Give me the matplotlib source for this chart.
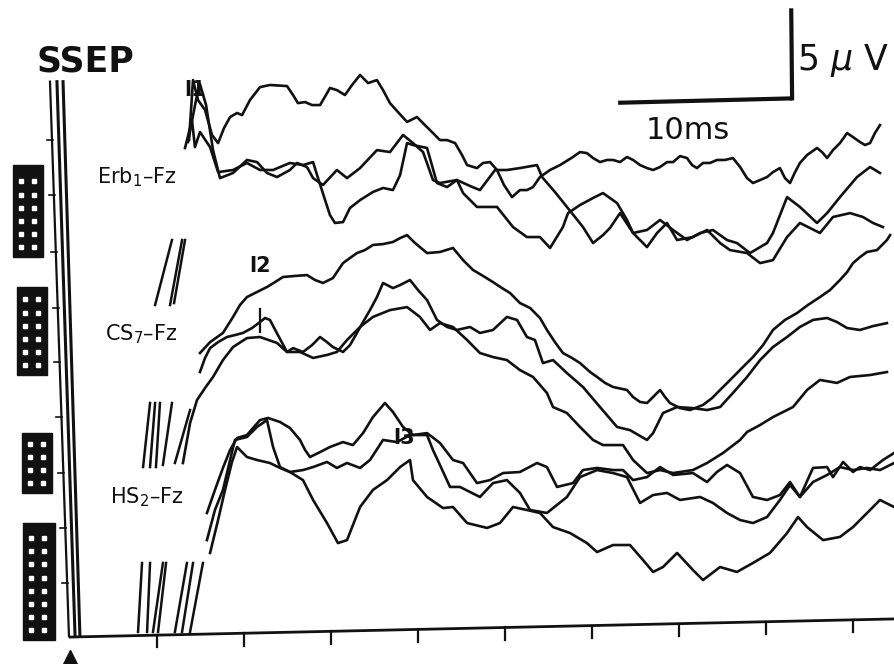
import numpy as np
import matplotlib
matplotlib.use("Agg")
import matplotlib.pyplot as plt
from matplotlib.patches import Rectangle

# ---------------- data: time (ms after stimulus) / amplitude (µV, page level) -------------
erb1_t = [6.84,7.07,7.36,7.76,8.16,8.51,8.85,9.20,9.60,9.89,10.34,10.92,11.49,12.47,12.82,13.10,13.51,13.91,14.37,14.71,
          14.94,15.34,15.80,16.21,16.67,17.13,17.64,17.99,18.39,18.85,19.37,19.94,20.40,20.86,21.26,21.67,22.13,22.53,22.82,23.39,
          23.74,24.14,24.54,24.94,25.40,25.86,26.26,26.61,27.01,27.59,28.16,28.91,29.31,29.71,30.06,30.46,30.86,31.21,31.61,32.01,
          32.36,32.76,33.16,33.51,33.91,34.31,34.66,35.06,35.46,35.75,36.03,36.38,36.78,37.18,37.64,38.10,38.51,38.91,39.25,39.66,
          40.06,40.40,40.80,41.09,41.38,41.67,41.95,42.36,42.93,43.22,43.51,43.85,44.25,44.66,45.00,45.40,45.69,45.98,46.26,46.55]
erb1_v = [28.18,31.59,30.45,29.89,28.47,28.01,28.86,29.49,29.72,29.60,30.45,31.19,31.31,31.25,30.74,30.28,30.34,30.17,30.17,30.74,
          31.14,31.02,30.74,31.31,31.88,31.42,31.59,31.02,30.28,29.77,29.21,29.49,29.03,28.58,28.18,28.18,28.01,27.33,26.76,26.59,
          26.88,26.93,26.48,25.63,24.94,25.34,25.34,25.51,26.08,26.48,26.76,27.22,27.50,27.44,27.16,26.93,27.05,27.05,26.93,27.22,
          27.05,26.76,26.59,26.48,26.65,26.93,26.93,27.27,27.16,26.76,26.59,26.88,26.88,27.05,27.05,27.16,26.65,26.02,25.74,25.91,
          26.08,26.36,26.59,26.02,25.74,26.36,26.88,27.33,27.73,27.50,27.16,27.61,28.01,28.58,28.35,28.07,27.90,28.01,28.58,29.03]

erb2_t = [6.78,7.24,7.47,7.82,8.22,8.62,9.37,10.17,10.75,11.32,11.90,12.64,13.05,13.62,13.97,14.54,15.34,15.92,16.67,17.64,
          18.39,19.14,19.71,20.29,20.86,21.26,22.24,22.99,23.56,24.43,25.11,25.86,26.84,27.13,27.87,28.56,29.48,30.06,30.63,31.03,
          31.61,32.36,33.16,33.91,34.66,35.46,36.21,36.95,37.76,38.33,39.08,40.06,40.40,41.21,41.95,42.93,43.51,44.25,45.23,45.98,46.55]
erb2_v = [28.07,30.45,31.36,30.17,27.61,26.02,26.31,27.05,26.93,26.31,26.08,26.48,26.88,26.65,26.02,25.63,26.48,26.02,26.59,27.61,
          27.50,28.47,28.01,27.50,25.91,25.74,25.91,25.57,25.34,26.48,26.48,26.59,26.76,26.08,25.23,24.38,23.24,22.33,22.78,23.18,
          24.03,22.90,23.07,23.64,23.07,22.50,22.90,23.07,22.50,22.33,21.76,22.33,22.90,24.94,24.38,23.47,24.03,24.94,26.08,26.65,26.31]

erb3_t = [6.61,7.01,7.18,7.47,8.05,8.51,9.37,10.17,10.92,11.67,12.64,13.39,13.97,14.20,14.66,14.94,15.23,15.69,16.09,16.67,
          17.41,17.99,18.56,18.97,19.37,19.71,20.52,21.09,21.67,22.24,22.59,23.39,24.54,25.46,26.26,27.01,27.59,28.33,28.62,29.31,
          30.06,30.63,31.44,32.01,32.36,33.16,33.74,34.31,34.89,35.80,36.61,37.36,37.93,38.91,39.66,40.40,41.21,41.95,43.10,43.85,
          44.83,45.57,46.15,46.72]
erb3_v = [27.73,29.32,27.78,28.64,27.78,26.36,26.48,26.88,26.48,26.48,26.88,26.76,26.93,26.19,24.77,23.92,23.47,23.52,24.32,24.77,
          25.23,25.46,25.34,26.19,28.01,27.90,27.73,25.74,25.51,25.91,25.17,24.38,24.38,23.24,22.67,22.67,22.05,23.24,24.03,24.49,
          24.89,25.17,24.60,23.64,22.90,22.10,22.90,23.47,22.50,22.67,23.07,22.33,21.93,21.76,21.19,21.36,22.67,23.47,22.90,23.81,
          24.03,23.81,23.47,23.24]

cs1_t = [7.47,8.05,8.79,9.37,9.77,10.17,10.75,11.32,11.78,12.24,12.93,13.62,14.08,14.54,15.11,15.69,16.09,16.49,16.95,17.41,
         17.99,18.56,18.97,19.37,19.83,20.52,21.26,22.01,22.59,23.16,23.74,24.31,24.83,25.29,25.86,26.44,27.01,27.41,27.87,28.33,
         28.85,29.31,29.89,30.29,30.75,31.21,32.01,32.36,32.76,33.16,33.51,33.91,34.20,34.48,35.06,35.63,36.38,36.90,37.36,37.82,
         38.33,38.79,39.25,39.83,40.40,41.09,41.78,42.41,43.10,43.68,44.25,44.66,45.00,45.40,45.80,46.38,46.95,47.13]
cs1_v = [16.08,16.70,17.22,18.13,18.81,19.26,19.55,19.83,20.11,20.40,20.46,20.51,20.23,20.06,20.34,21.19,21.48,21.76,21.93,22.22,
         22.27,22.39,22.61,22.78,22.33,21.76,21.82,22.05,21.36,20.80,20.46,20.11,19.77,19.49,18.92,18.64,18.07,17.39,16.70,16.08,
         15.80,15.51,15.00,14.72,14.38,14.15,13.98,13.58,13.30,13.24,13.58,13.98,13.58,13.24,12.95,12.84,13.13,13.52,13.98,14.43,
         14.94,15.40,15.85,16.53,17.39,17.96,18.35,18.81,19.26,19.66,20.23,20.68,21.19,21.53,21.82,21.93,22.50,22.78]

cs2_t = [7.47,7.76,8.05,8.51,9.02,9.48,9.94,10.46,10.92,11.21,11.49,11.95,12.47,12.82,13.39,13.91,14.37,14.77,15.11,15.69,
         16.09,16.49,16.84,17.24,17.64,17.99,18.56,18.97,19.54,20.00,20.52,21.09,21.67,22.24,22.99,23.56,24.31,25.11,25.69,26.26,
         26.72,27.18,27.76,28.56,29.48,30.46,31.44,32.18,33.16,33.51,34.08,34.89,35.80,36.61,37.36,38.10,38.91,39.66,40.40,41.21,
         41.95,42.70,43.51,44.08,44.66,45.40,46.15,46.95]
cs2_v = [15.00,15.80,16.36,16.70,16.99,17.10,17.22,17.50,17.84,18.07,17.96,17.10,16.14,16.36,16.14,16.53,16.99,16.70,16.42,16.14,
         16.53,17.22,17.84,18.52,19.26,20.06,19.77,19.94,20.23,19.66,19.09,17.96,17.56,17.39,17.56,17.22,17.39,18.13,17.96,16.99,
         16.82,15.51,15.68,14.94,14.15,13.01,11.88,11.70,11.14,11.53,12.67,13.01,12.95,12.84,13.01,13.81,14.72,15.68,16.42,16.99,
         17.56,17.96,18.07,17.84,17.50,17.39,17.61,17.78]

cs3_t = [6.49,6.90,7.30,7.76,8.22,8.79,9.37,10.17,10.92,11.90,12.47,13.22,13.97,14.77,15.34,15.92,16.67,17.41,18.39,19.37,
         20.11,20.69,21.26,22.01,22.82,23.56,24.31,25.11,25.86,26.61,27.41,27.76,28.56,29.31,30.06,30.63,31.78,32.36,33.16,33.91,
         34.66,35.80,36.61,37.53,38.51,38.91,39.66,40.40,41.55,42.36,43.10,44.08,44.83,45.98,46.95]
cs3_v = [9.83,12.10,13.41,14.09,14.72,15.68,16.42,16.93,16.99,16.65,16.14,16.14,15.80,15.97,16.14,16.82,17.56,18.13,18.52,18.69,
         18.13,17.39,17.78,17.56,16.82,16.08,15.85,15.68,15.11,14.72,13.81,13.01,12.67,11.88,11.14,10.85,10.85,10.00,9.26,9.43,
         9.26,9.43,9.83,10.40,11.14,11.59,11.99,12.44,13.01,13.98,14.55,14.38,14.72,14.83,15.00]

hs1_t = [7.87,8.33,8.79,9.20,9.60,10.17,10.52,10.92,11.38,12.07,12.64,13.22,13.51,13.79,14.37,14.94,15.69,16.26,16.84,17.41,
         18.10,18.56,19.14,19.71,20.52,21.26,22.01,22.59,23.39,24.14,24.89,25.86,26.84,27.41,27.99,28.91,29.48,30.29,31.21,31.78,
         32.36,33.16,33.91,34.66,35.80,36.61,37.18,37.76,38.51,39.25,40.06,40.80,41.38,41.95,42.70,43.51,43.85,44.43,45.00,45.40,
         45.98,46.72,47.36]
hs1_v = [6.99,8.30,9.55,10.57,11.25,11.42,11.82,12.27,12.39,12.16,11.82,11.14,10.57,10.17,10.45,10.74,11.02,10.85,11.53,12.44,
         13.24,12.73,11.88,11.42,11.53,10.97,10.00,9.83,8.69,8.86,9.26,9.32,9.83,9.60,8.47,8.69,9.43,9.55,9.43,9.43,
         8.86,9.03,9.60,9.15,9.26,8.75,9.32,9.72,9.26,7.90,7.73,8.01,8.75,7.90,9.55,9.60,9.03,9.89,9.32,9.60,
         9.43,10.00,10.40]

hs2_t = [7.87,8.33,8.79,9.20,9.48,10.17,10.75,11.32,11.67,12.07,12.64,13.39,13.97,14.77,15.40,15.92,16.67,17.41,18.22,18.97,
         19.54,19.71,20.52,21.44,22.01,22.82,23.97,24.71,25.46,26.26,27.01,27.76,28.74,29.71,30.29,31.21,32.18,32.93,33.51,34.08,
         34.89,35.80,36.38,37.36,38.33,39.25,40.23,41.21,41.84,42.36,43.28,44.25,45.00,45.98,46.55,47.36]
hs2_v = [5.45,7.16,8.30,10.00,11.14,11.31,11.88,12.27,10.74,9.60,9.32,8.86,7.73,6.42,5.28,5.45,7.33,8.30,8.86,9.60,
         10.00,8.86,7.90,7.27,7.33,6.42,6.14,6.42,7.33,7.16,6.99,6.19,5.85,5.28,4.77,5.17,5.17,4.32,3.64,3.92,
         4.72,3.75,3.18,3.92,3.64,4.15,4.72,5.85,6.76,6.19,5.45,5.63,6.19,7.16,7.73,7.33]

hs3_t = [8.05,8.51,8.91,9.31,9.60,10.17,10.75,11.49,12.07,12.64,13.39,13.97,14.77,15.34,15.92,16.67,17.24,17.99,18.79,19.54,
         20.52,20.86,21.26,21.84,22.41,23.56,24.31,25.11,25.86,26.44,27.41,28.56,29.31,30.29,31.21,32.01,32.76,33.51,34.31,35.06,
         36.21,36.95,37.76,38.51,39.25,40.06,40.80,41.38,41.95,42.70,43.51,44.25,45.00,45.80,46.55,47.36]
hs3_v = [4.72,6.59,8.30,9.89,10.74,10.17,10.00,9.83,9.55,9.32,9.43,9.60,9.89,9.55,9.83,9.55,10.00,11.14,11.02,11.42,
         11.42,10.57,9.72,8.47,8.47,7.90,8.69,8.86,8.13,7.16,6.99,7.90,9.03,9.43,9.26,9.03,7.56,8.01,8.13,7.73,
         7.90,7.56,6.99,6.59,6.42,6.76,7.73,8.58,7.90,8.75,9.15,9.60,9.43,9.55,9.43,9.83]

traces = [(erb1_t, erb1_v), (erb2_t, erb2_v), (erb3_t, erb3_v),
          (cs1_t, cs1_v), (cs2_t, cs2_v), (cs3_t, cs3_v),
          (hs1_t, hs1_v), (hs2_t, hs2_v), (hs3_t, hs3_v)]

# steep onset strokes (ms start, ms end, µV start, µV end)
stub_t0 = [4.89, 5.75, 5.98, 4.20, 4.60, 4.94, 5.34, 6.03, 3.91, 4.43, 4.77, 5.06, 6.03, 6.44, 6.90]
stub_t1 = [5.86, 6.44, 6.61, 4.60, 4.89, 5.17, 5.86, 6.90, 4.14, 4.60, 5.34, 5.52, 6.72, 7.07, 7.64]
stub_v0 = [18.81, 18.81, 18.92, 9.60, 9.60, 9.60, 9.72, 9.83, 0.23, 0.23, 0.23, 0.23, 0.23, 0.23, 0.23]
stub_v1 = [22.50, 22.50, 22.50, 13.24, 13.24, 13.24, 13.24, 12.84, 4.15, 4.15, 4.15, 4.15, 4.15, 4.15, 4.15]

channel_labels = ["Erb$_1$–Fz", "CS$_7$–Fz", "HS$_2$–Fz"]
channel_label_t = [1.55, 2.01, 2.30]
channel_label_v = [26.08, 17.16, 7.90]

peak_labels = ["l1", "l2", "l3"]
peak_label_t = [7.18, 10.92, 19.2]
peak_label_v = [31.0, 21.0, 11.25]

tick_times = [5, 10, 15, 20, 25, 30, 35, 40, 45]
axis_t = [0.0, 47.36]
axis_v = [-0.06, 0.97]

left_tick_v = [28.18, 25.06, 21.82, 18.64, 15.57, 12.44, 9.26, 6.14, 3.01]

scale_ms = 10
scale_uv = 5

# ---------------- figure ----------------
fig = plt.figure(figsize=(8.94, 6.64), dpi=100)
ax = fig.add_axes([0, 0, 1, 1])
ax.set_xlim(-4.023, 47.356)
ax.set_ylim(-1.591, 36.14)
ax.axis("off")

ink = "#111111"

for t, v in traces:
    n = min(len(t), len(v))
    ax.plot(t[:n], v[:n], color=ink, lw=1.9, solid_joinstyle="round")

for a, b, c, d in zip(stub_t0, stub_t1, stub_v0, stub_v1):
    ax.plot([a, b], [c, d], color=ink, lw=1.8)

# left vertical lines
left_top_t = [-1.15, -0.75, -0.40]
left_bot_t = [-0.06, 0.29, 0.57]
for a, b, w in zip(left_top_t, left_bot_t, [1.6, 2.2, 2.2]):
    ax.plot([a, b], [31.5, 0.0], color=ink, lw=w)
for lv in left_tick_v:
    tx = np.interp(lv, [0.0, 31.5], [left_bot_t[0], left_top_t[0]])
    ax.plot([tx - 0.3, tx + 0.05], [lv, lv], color=ink, lw=1.2)

# baseline with ticks
ax.plot(axis_t, axis_v, color=ink, lw=2.0)
for tt in tick_times:
    bv = np.interp(tt, axis_t, axis_v)
    ax.plot([tt, tt], [bv, bv - 0.7], color=ink, lw=1.6)
ax.plot([0.0], [-1.3], marker="^", color=ink, markersize=13, clip_on=False)

# scale bar
ax.plot([41.5 - scale_ms, 41.5], [30.3, 30.55], color=ink, lw=3.0, solid_capstyle="butt")
ax.plot([41.45, 41.5], [30.55 + scale_uv, 30.55], color=ink, lw=3.0)
ax.text(41.8, 32.7, "5 $\\mu$ V", fontsize=25, va="center", ha="left", color=ink, family="DejaVu Sans")
ax.text(33.1, 28.7, "10ms", fontsize=22, va="center", ha="left", color=ink, family="DejaVu Sans")

# title
ax.text(-1.95, 32.67, "SSEP", fontsize=25, fontweight="bold", va="center", ha="left", color=ink,
        family="DejaVu Sans")

# channel labels
for lab, lt, lv in zip(channel_labels, channel_label_t, channel_label_v):
    ax.text(lt, lv, lab, fontsize=15, va="center", ha="left", color=ink, family="DejaVu Sans")

for lab, lt, lv in zip(peak_labels, peak_label_t, peak_label_v):
    ax.text(lt, lv, lab, fontsize=15, fontweight="bold", va="center", ha="center", color=ink,
            family="DejaVu Sans")

# small latency mark on CS trace
ax.plot([10.92, 10.92], [17.3, 18.6], color=ink, lw=1.6)

# black label boxes with white marks (scanned annotations)
boxes = [(-3.28, 21.53, 1.73, 5.23), (-3.05, 14.83, 1.73, 5.0),
         (-2.76, 8.13, 1.73, 3.4), (-2.70, -0.23, 1.84, 6.65)]
for bx, by, bw, bh in boxes:
    ax.add_patch(Rectangle((bx, by), bw, bh, facecolor=ink, edgecolor=ink, zorder=3))
    rows = np.arange(by + 0.55, by + bh - 0.3, 0.75)
    for r in rows:
        ax.plot([bx + 0.45, bx + 1.2], [r, r], ls="none", marker="s", markersize=3.5,
                color="white", zorder=4)

fig.savefig("out.png", dpi=100, facecolor="white")
